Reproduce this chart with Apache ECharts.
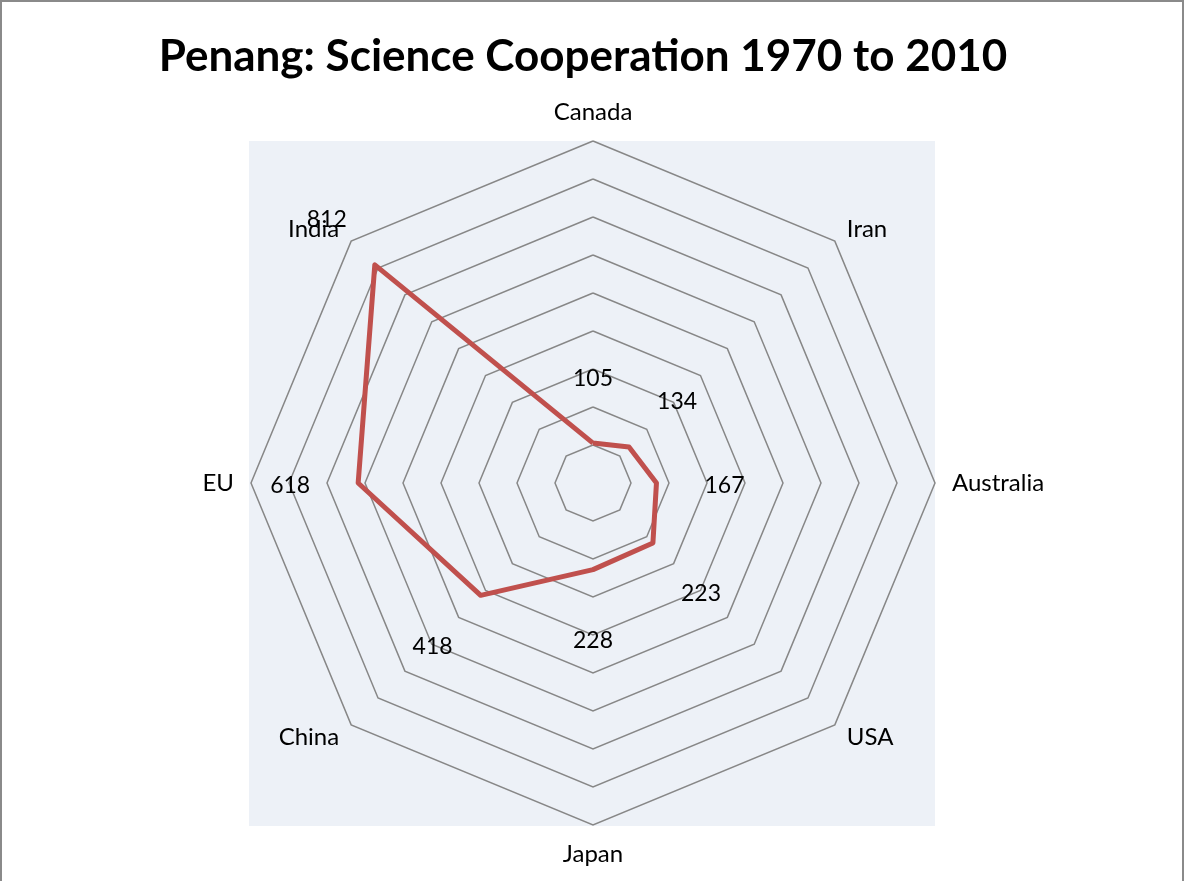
<!DOCTYPE html>
<html>
<head>
<meta charset="utf-8">
<script src="https://cdn.jsdelivr.net/npm/echarts@6/dist/echarts.min.js"></script>
<style>
  html, body { margin: 0; padding: 0; background: #ffffff; }
  #chart { position: absolute; left: 0; top: 0; width: 1184px; height: 881px; }
  #frame { position: absolute; left: 0; top: 0; width: 1184px; height: 900px; box-sizing: border-box;
           border: 2px solid #8a8a8a; pointer-events: none; }
</style>
</head>
<body>
<div id="chart"></div>
<div id="frame"></div>
<script>
// Data, listed clockwise from the top
const categories = ['Canada', 'Iran', 'Australia', 'USA', 'Japan', 'China', 'EU', 'India'];
const values = [105, 134, 167, 223, 228, 418, 618, 812];
const axisMax = 900;
const ringCount = 9;

// ECharts radar places indicators counter-clockwise; reorder so they read clockwise.
const order = [0].concat(categories.map((_, i) => i).slice(1).reverse());
const indNames = order.map(i => categories[i]);
const indValues = order.map(i => values[i]);

const RADIUS = 342;
const LABEL_GAP_PX = 68; // Excel-style data labels sit outside each vertex
const labelGap = LABEL_GAP_PX * axisMax / RADIUS;
const labelPositions = indValues.map(v => v + labelGap);

const chart = echarts.init(document.getElementById('chart'), null, { renderer: 'canvas' });
const FONT = 'Lato, "Open Sans", sans-serif';

chart.setOption({
  backgroundColor: '#ffffff',
  animation: false,
  title: {
    text: 'Penang: Science Cooperation 1970 to 2010',
    left: 578,
    textAlign: 'center',
    top: 30,
    textStyle: { fontFamily: FONT, fontWeight: 'bold', fontSize: 44, color: '#000000' }
  },
  grid: {
    show: true, left: 249, top: 141, width: 686, height: 685,
    backgroundColor: '#EDF1F7', borderWidth: 0
  },
  xAxis: { show: false, type: 'value' },
  yAxis: { show: false, type: 'value' },
  radar: {
    center: [593, 483],
    radius: RADIUS,
    startAngle: 90,
    shape: 'polygon',
    splitNumber: ringCount,
    indicator: indNames.map(n => ({ name: n, max: axisMax, min: 0 })),
    axisName: { color: '#000000', fontFamily: FONT, fontSize: 24 },
    nameGap: 17,
    axisLine: { show: false },
    axisTick: { show: false },
    axisLabel: { show: false },
    splitArea: { show: false },
    splitLine: { show: true, lineStyle: { color: '#878787', width: 1.5 } }
  },
  series: [
    {
      type: 'radar',
      symbol: 'none',
      lineStyle: { color: '#C0504D', width: 5 },
      itemStyle: { color: '#C0504D' },
      data: [{ value: indValues, name: 'Penang' }],
      z: 3
    },
    {
      type: 'radar',
      symbol: 'circle',
      symbolSize: 1,
      silent: true,
      lineStyle: { color: 'transparent', width: 0 },
      itemStyle: { color: 'transparent', borderWidth: 0 },
      label: {
        show: true,
        position: 'inside',
        offset: [0, 3],
        color: '#000000',
        fontFamily: FONT,
        fontSize: 23,
        formatter: p => String(indValues[p.dimensionIndex])
      },
      data: [{ value: labelPositions, name: 'labels' }],
      z: 4
    }
  ]
});
</script>
</body>
</html>
